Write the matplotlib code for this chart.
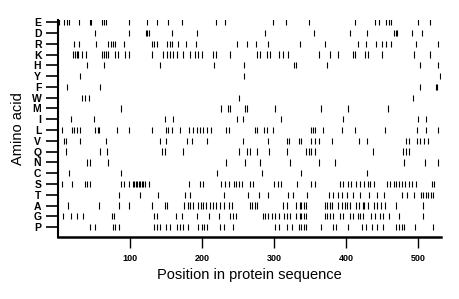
import matplotlib
matplotlib.use("Agg")
import matplotlib.pyplot as plt

# amino acids, top to bottom
residues = ['E', 'D', 'R', 'K', 'H', 'Y', 'F', 'W', 'M', 'I',
            'L', 'V', 'Q', 'N', 'C', 'S', 'T', 'A', 'G', 'P']

# positions of each residue in the sequence
pos_E = [2, 9, 12, 15, 29, 45, 46, 61, 64, 67, 98, 123, 137, 153, 172, 219, 232,
         298, 316, 348, 412, 440, 446, 455, 460, 462, 500, 517]
pos_D = [52, 99, 122, 124, 126, 158, 193, 288, 356, 406, 429, 467, 469, 471, 491, 505]
pos_R = [22, 29, 53, 70, 73, 76, 79, 91, 131, 134, 137, 152, 155, 158, 166, 178, 191,
         248, 262, 275, 292, 336, 371, 416, 428, 442, 450, 456, 462, 497, 528]
pos_K = [21, 23, 26, 28, 34, 39, 61, 64, 67, 70, 79, 84, 93, 98, 131, 146, 151, 155,
         160, 165, 174, 184, 190, 195, 200, 215, 220, 239, 277, 280, 290, 294, 307,
         313, 319, 362, 378, 389, 409, 412, 426, 431, 450, 494, 517]
pos_H = [41, 64, 141, 217, 258, 328, 331, 373, 502, 527]
pos_Y = [30, 258, 531]
pos_F = [13, 59, 503, 525, 526]
pos_W = [34, 38, 43, 251, 493]
pos_M = [87, 227, 236, 239, 260, 262, 301, 365, 403, 458]
pos_I = [18, 50, 149, 160, 249, 257, 309, 396, 500, 511]
pos_L = [5, 19, 22, 26, 30, 51, 55, 57, 82, 98, 130, 150, 153, 158, 169, 182, 188,
         193, 197, 202, 207, 213, 233, 237, 273, 277, 286, 290, 299, 351, 354, 357,
         368, 395, 412, 454, 498, 511, 527]
pos_V = [8, 11, 31, 67, 142, 150, 179, 186, 207, 257, 291, 318, 321, 334, 338, 352,
         357, 362, 380, 418, 429, 483, 487, 498, 503, 508, 514]
pos_Q = [11, 59, 68, 144, 149, 173, 252, 262, 267, 277, 293, 318, 345, 348, 352, 357,
         438, 479, 483, 488]
pos_N = [41, 45, 70, 233, 260, 281, 322, 362, 385, 481, 510, 527]
pos_C = [16, 88, 221, 283, 338, 429]
pos_S = [6, 20, 37, 41, 44, 88, 92, 98, 104, 106, 108, 110, 112, 114, 116, 118, 121,
         126, 182, 197, 201, 226, 232, 238, 244, 247, 252, 255, 267, 271, 300, 305,
         309, 332, 351, 357, 392, 396, 403, 407, 414, 419, 425, 430, 433, 439, 457,
         461, 466, 470, 474, 477, 482, 487, 491, 497, 519, 522]
pos_T = [85, 114, 139, 176, 184, 230, 264, 279, 292, 320, 327, 346, 377, 382, 389,
         395, 401, 409, 420, 432, 443, 453, 477, 485, 494, 504, 507, 511, 514, 518, 521]
pos_A = [14, 57, 85, 99, 130, 149, 152, 175, 180, 183, 188, 195, 198, 202, 206, 211,
         215, 220, 225, 230, 238, 241, 267, 270, 274, 277, 312, 318, 331, 336, 338,
         341, 345, 371, 373, 378, 380, 389, 394, 399, 401, 406, 414, 418, 423, 425,
         431, 439, 443, 448, 454, 470, 507]
pos_G = [7, 18, 26, 35, 75, 78, 133, 137, 164, 172, 193, 210, 223, 239, 243, 247,
         284, 287, 292, 297, 301, 307, 314, 318, 322, 331, 336, 338, 342, 344, 371,
         373, 378, 382, 391, 396, 406, 409, 416, 420, 424, 434, 440, 447, 451, 460,
         473, 507]
pos_P = [45, 51, 76, 79, 85, 133, 137, 141, 150, 156, 165, 170, 174, 181, 195, 200,
         203, 207, 225, 231, 243, 301, 307, 318, 325, 334, 338, 341, 345, 365, 382,
         386, 403, 422, 428, 436, 443, 451, 469, 474, 477, 481, 496, 521]

positions = [pos_E, pos_D, pos_R, pos_K, pos_H, pos_Y, pos_F, pos_W, pos_M, pos_I,
             pos_L, pos_V, pos_Q, pos_N, pos_C, pos_S, pos_T, pos_A, pos_G, pos_P]
seq_len = 532
xticks = [100, 200, 300, 400, 500]

fig = plt.figure(figsize=(4.6, 2.99), dpi=100)
ax = fig.add_axes([0.126, 0.207, 0.833, 0.726])

ax.eventplot(positions, lineoffsets=list(range(len(residues))), linelengths=0.58,
             colors='black', linewidths=0.8)

ax.set_xlim(0, seq_len)
ax.set_ylim(len(residues) - 0.07, -0.2)

ax.set_yticks(range(len(residues)))
ax.set_yticklabels(residues, fontsize=7.5, fontweight='bold', family='Liberation Sans')
ax.tick_params(axis='y', length=9, width=1.2, pad=3)
ax.set_xticks(xticks)
ax.set_xticklabels([str(t) for t in xticks], fontsize=6.5, fontweight='bold',
                   family='Liberation Sans')
ax.tick_params(axis='x', length=8, width=1.0, pad=4)

for side in ['top', 'right']:
    ax.spines[side].set_visible(False)
ax.spines['left'].set_linewidth(1.5)
ax.spines['bottom'].set_linewidth(1.8)

ax.set_xlabel('Position in protein sequence', fontsize=10.5, family='Liberation Sans',
              labelpad=4)
ax.set_ylabel('Amino acid', fontsize=10.5, family='Liberation Sans', labelpad=5)

fig.savefig('out.png', dpi=100)
